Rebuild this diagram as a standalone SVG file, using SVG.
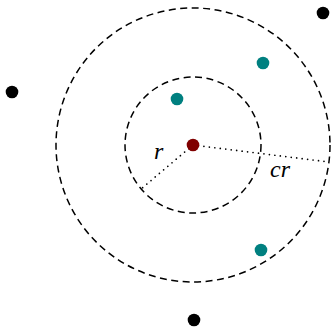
<svg xmlns="http://www.w3.org/2000/svg" width="331" height="327" viewBox="0 0 331 327">
<style>
.dash{fill:none;stroke:#000;stroke-width:1.5;stroke-dasharray:7 4.5}
.dot{fill:none;stroke:#000;stroke-width:1.7;stroke-linecap:round;stroke-dasharray:0 5.5}
.lbl{font-family:"Liberation Serif",serif;font-style:italic;font-size:24px;fill:#000}
.teal{fill:#008080}
.blk{fill:#000}
</style>
<rect width="331" height="327" fill="#fff"/>
<g id="outer-circle"><circle class="dash" cx="193" cy="145" r="137"/></g>
<g id="inner-circle"><circle class="dash" cx="193" cy="145" r="68"/></g>
<g id="connectors">
<line class="dot" x1="193" y1="145" x2="141" y2="189"/>
<line class="dot" x1="193" y1="145" x2="329" y2="162"/>
</g>
<g id="label-r"><text class="lbl" x="154" y="159">r</text></g>
<g id="label-cr"><text class="lbl" x="270" y="177">cr</text></g>
<g id="center"><circle cx="193" cy="145" r="6.3" fill="#800000"/></g>
<g id="teal1"><circle class="teal" cx="177" cy="99" r="6.3"/></g>
<g id="teal2"><circle class="teal" cx="263" cy="63" r="6.3"/></g>
<g id="teal3"><circle class="teal" cx="261" cy="250" r="6.3"/></g>
<g id="black1"><circle class="blk" cx="323" cy="13" r="6.3"/></g>
<g id="black2"><circle class="blk" cx="12" cy="92" r="6.3"/></g>
<g id="black3"><circle class="blk" cx="194" cy="320" r="6.3"/></g>
</svg>
